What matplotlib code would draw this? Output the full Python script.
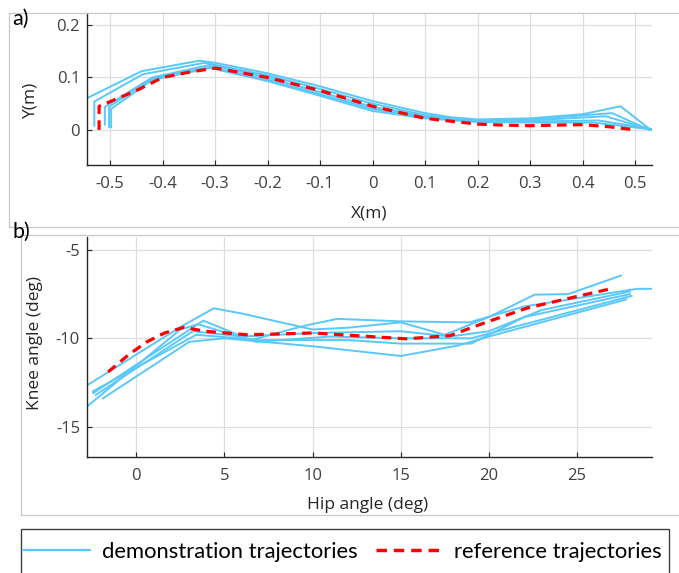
import numpy as np
import matplotlib
matplotlib.use("Agg")
import matplotlib.pyplot as plt
from matplotlib.lines import Line2D
from matplotlib.patches import Rectangle
from matplotlib.ticker import FormatStrFormatter

plt.rcParams['axes.unicode_minus'] = False

# ---- panel a) end point path, demonstration trajectories (m)
demo_a_x = [
    [-0.545, -0.545, -0.44, -0.33, -0.30, -0.20, -0.10, 0.00, 0.10, 0.15, 0.20, 0.30, 0.40, 0.472, 0.527],
    [-0.530, -0.530, -0.438, -0.32, -0.20, -0.10, 0.00, 0.10, 0.20, 0.30, 0.456, 0.527],
    [-0.510, -0.510, -0.42, -0.31, -0.20, -0.10, 0.00, 0.10, 0.20, 0.30, 0.444, 0.530],
    [-0.502, -0.502, -0.42, -0.31, -0.20, -0.10, 0.00, 0.10, 0.20, 0.30, 0.430, 0.530],
    [-0.498, -0.498, -0.42, -0.31, -0.20, -0.10, 0.00, 0.10, 0.20, 0.30, 0.420, 0.530],
]
demo_a_y = [
    [0.005, 0.060, 0.112, 0.132, 0.128, 0.108, 0.083, 0.055, 0.032, 0.024, 0.020, 0.022, 0.030, 0.045, 0.002],
    [0.008, 0.054, 0.106, 0.128, 0.104, 0.078, 0.050, 0.028, 0.018, 0.020, 0.032, 0.000],
    [0.010, 0.044, 0.100, 0.124, 0.100, 0.072, 0.044, 0.026, 0.016, 0.018, 0.026, 0.000],
    [0.005, 0.044, 0.098, 0.120, 0.096, 0.068, 0.040, 0.024, 0.016, 0.016, 0.018, 0.002],
    [0.005, 0.040, 0.095, 0.118, 0.093, 0.065, 0.036, 0.022, 0.015, 0.014, 0.014, 0.001],
]
ref_a_x = [-0.521, -0.521, -0.45, -0.40, -0.35, -0.30, -0.20, -0.10, 0.00, 0.10, 0.20, 0.25, 0.30, 0.40, 0.45, 0.50]
ref_a_y = [0.000, 0.045, 0.075, 0.100, 0.110, 0.118, 0.100, 0.075, 0.045, 0.022, 0.011, 0.009, 0.008, 0.010, 0.006, 0.000]
ticks_a_x = [-0.5, -0.4, -0.3, -0.2, -0.1, 0, 0.1, 0.2, 0.3, 0.4, 0.5]
ticks_a_y = [0, 0.1, 0.2]

# ---- panel b) joint space, hip / knee angles (deg)
demo_b_x = [
    [-2.7, 2.6, 4.4, 6.0, 10.0, 12.0, 15.0, 17.5, 20.0, 22.6, 24.5, 27.5],
    [-2.45, 3.8, 6.5, 9.5, 11.4, 15.0, 18.9, 22.0, 28.4, 29.3],
    [-2.85, 2.5, 3.5, 6.8, 11.0, 15.0, 19.0, 28.1],
    [-1.9, 3.0, 5.0, 10.0, 15.0, 18.3, 20.0, 27.8],
    [-2.46, 3.4, 7.0, 12.0, 15.0, 19.0, 22.0, 28.0],
    [-2.3, 3.2, 6.0, 10.0, 15.0, 17.8, 20.0, 23.0, 28.0],
]
demo_b_y = [
    [-12.6, -9.3, -8.3, -8.6, -9.5, -9.4, -9.1, -9.8, -8.8, -7.53, -7.5, -6.45],
    [-13.1, -9.0, -10.1, -9.3, -8.9, -9.04, -9.1, -8.2, -7.2, -7.2],
    [-13.9, -9.5, -9.2, -10.2, -9.9, -10.0, -10.0, -7.6],
    [-13.4, -10.2, -10.0, -10.45, -11.0, -10.4, -9.9, -7.8],
    [-13.0, -9.8, -10.1, -10.1, -10.3, -10.3, -8.8, -7.5],
    [-13.2, -9.6, -9.9, -9.7, -9.6, -9.9, -9.6, -8.4, -7.35],
]
ref_b_x = [-1.6, -0.4, 0.6, 1.6, 2.7, 3.9, 6.3, 10.0, 12.5, 15.3, 17.8, 19.0, 20.0, 22.2, 24.4, 26.9]
ref_b_y = [-11.9, -10.9, -10.2, -9.7, -9.38, -9.6, -9.8, -9.7, -9.85, -10.03, -9.85, -9.4, -9.04, -8.28, -7.77, -7.2]
ticks_b_x = [0, 5, 10, 15, 20, 25]
ticks_b_y = [-15, -10, -5]

blue = '#5ac8fa'
red = '#ff0000'
W, H = 679, 573

fig = plt.figure(figsize=(W / 100, H / 100), dpi=100)


def fx(px):
    return px / W


def fy(py):
    return 1 - py / H


def style_axes(ax):
    for s in ['top', 'right']:
        ax.spines[s].set_visible(False)
    for s in ['left', 'bottom']:
        ax.spines[s].set_color('#262626')
        ax.spines[s].set_linewidth(1.0)
    ax.grid(True, color='#dedede', linewidth=0.9)
    ax.set_axisbelow(True)
    ax.tick_params(direction='in', length=3.5, width=0.8, colors='#262626',
                   labelcolor='#404040', labelsize=12)
    ax.tick_params(axis='x', pad=8)
    ax.tick_params(axis='y', pad=5)
    for lab in ax.get_xticklabels() + ax.get_yticklabels():
        lab.set_family('Open Sans')


# panel a
ax1 = fig.add_axes([fx(87), fy(165), (652 - 87) / W, (165 - 13) / H])
for xs, ys in zip(demo_a_x, demo_a_y):
    ax1.plot(xs, ys, color=blue, lw=1.4, zorder=2)
ax1.plot(ref_a_x, ref_a_y, color=red, lw=2.3, dashes=(3, 2), zorder=3)
ax1.set_xlim(-0.544, 0.532)
ax1.set_ylim(-0.067, 0.223)
ax1.set_xticks(ticks_a_x)
ax1.set_yticks(ticks_a_y)
ax1.xaxis.set_major_formatter(FormatStrFormatter('%g'))
ax1.yaxis.set_major_formatter(FormatStrFormatter('%g'))
style_axes(ax1)
ax1.set_xlabel('X(m)', fontsize=12.5, family='Open Sans', color='#262626')
ax1.set_ylabel('Y(m)', fontsize=12.5, family='Open Sans', color='#262626')
ax1.xaxis.set_label_coords(0.50, -0.265)
ax1.yaxis.set_label_coords(-0.085, 0.42)

# panel b
ax2 = fig.add_axes([fx(87), fy(456.7), (652 - 87) / W, (456.7 - 236.7) / H])
for xs, ys in zip(demo_b_x, demo_b_y):
    ax2.plot(xs, ys, color=blue, lw=1.4, zorder=2)
ax2.plot(ref_b_x, ref_b_y, color=red, lw=2.3, dashes=(3, 2), zorder=3)
ax2.set_xlim(-2.8, 29.26)
ax2.set_ylim(-16.7, -4.25)
ax2.set_xticks(ticks_b_x)
ax2.set_yticks(ticks_b_y)
style_axes(ax2)
ax2.set_xlabel('Hip angle (deg)', fontsize=12.5, family='Open Sans', color='#262626')
ax2.set_ylabel('Knee angle (deg)', fontsize=12.5, family='Open Sans', color='#262626')
ax2.xaxis.set_label_coords(0.497, -0.183)
ax2.yaxis.set_label_coords(-0.078, 0.515)

# screenshot frames around the two panels
frame = '#c8c8c8'
fig.add_artist(Line2D([fx(8.7), fx(8.7)], [fy(13), fy(227)], color=frame, lw=0.9))
fig.add_artist(Line2D([fx(8.7), 1], [fy(13), fy(13)], color=frame, lw=0.9))
fig.add_artist(Line2D([fx(8.7), 1], [fy(227), fy(227)], color=frame, lw=0.9))
fig.add_artist(Line2D([fx(21), fx(21)], [fy(235), fy(515)], color=frame, lw=0.9))
fig.add_artist(Line2D([fx(21), 1], [fy(235), fy(235)], color=frame, lw=0.9))
fig.add_artist(Line2D([fx(21), 1], [fy(515), fy(515)], color=frame, lw=0.9))

fig.text(fx(12), fy(19), 'a)', fontsize=15.5, family='Lato', va='center', ha='left')
fig.text(fx(12), fy(232), 'b)', fontsize=15.5, family='Lato', va='center', ha='left')

# legend box
fig.add_artist(Rectangle((fx(21), fy(580)), (669 - 21) / W, (580 - 529) / H,
                         transform=fig.transFigure, fill=False, edgecolor='#404040', lw=1.0))
handles = [Line2D([], [], color=blue, lw=1.6),
           Line2D([], [], color=red, lw=2.5, dashes=(3, 2))]
fig.legend(handles, ['demonstration trajectories', 'reference trajectories'],
           loc='center', bbox_to_anchor=(fx(343), fy(552)), ncol=2, frameon=False,
           prop={'family': 'Lato', 'size': 15.8}, handlelength=3.0, handletextpad=0.55,
           columnspacing=0.85)

fig.savefig('out.png', dpi=100)
